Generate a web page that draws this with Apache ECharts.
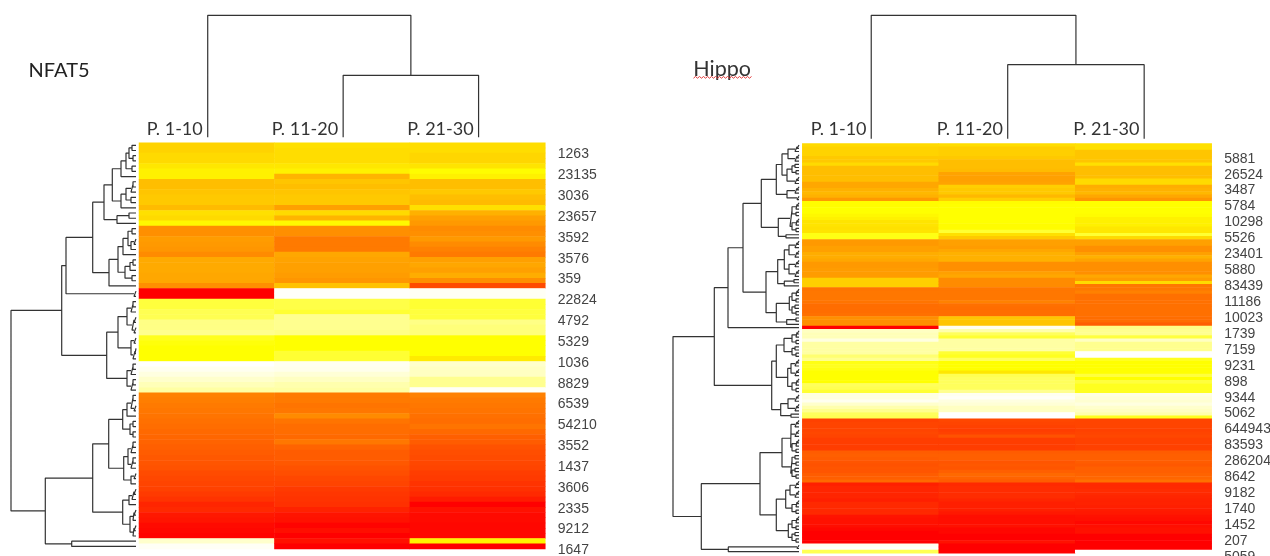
<!DOCTYPE html>
<html><head><meta charset="utf-8">
<style>html,body{margin:0;padding:0;background:#fff;overflow:hidden}#c{width:1270px;height:556px}</style>
<script src="https://cdn.jsdelivr.net/npm/echarts@6/dist/echarts.min.js"></script>
</head><body><div id="c"></div>
<script>
const columns = ['P. 1-10','P. 11-20','P. 21-30'];
const nfatTicks = ['1263','23135','3036','23657','3592','3576','359','22824','4792','5329','1036','8829','6539','54210','3552','1437','3606','2335','9212','1647'];
const hippoTicks = ['5881','26524','3487','5784','10298','5526','23401','5880','83439','11186','10023','1739','7159','9231','898','9344','5062','644943','83593','286204','8642','9182','1740','1452','207','5059'];

const nfatP1 = [38,38,36,36,32,29,29, 44,44,42,41,41,45, 34,36,27,
  58,58,54,55,56,59, 50,50,50,51,51,58, 100,100,
  19,19,17,17,12,12,11,22,24,25,25,25, 0,1.5,3,5,7,9,
  62,63,64,65,66,67,68,69,70,71,72,73,74,75,76,78,79,80,81,83,85,89,88,93,94,97,98,99, 5,1];
const nfatP2 = [34,35,35,35,32,29,47, 42,44,42,41,41,53, 36,47,27,
  58,58,64,64,64,51, 52,53,53,54,56,43, 0.5,0.5,
  18,18,20,11,11,11,12,25,25,25,20,20, 1.5,2,4,6,8,9,
  64,64,66,65,59,66,68,68,69,65,71,73,73,74,76,77,79,80,83,84,85,86,90,94,95,99,96,100, 95,100];
const nfatP3 = [35,35,37,37,33,26,29, 44,44,41,44,45,34, 48,53,55,
  59,58,55,59,62,64, 53,51,53,49,58,78, 1,1,
  20,20,19,19,12,13,13,25,25,25,25,31, 5,6,6,11,11,1,
  62,64,65,66,67,68,66,69,72,73,76,77,78,79,80,82,83,85,86,88,92,100,95,97,97,98,98,98, 28,100];

const hippoP1 = [36,38,38,38,41,41,36,44,44,44,44,44,51,51,48,46,48,55,
  26,26,25,25,27,29,33,33,34,33,23,23,
  55,55,53,53,49,49,51,55,55,54,54,54,39,39,39,
  66,65,65,65,66,68,68,68,67,58,58,58,100,
  6,7,7,3,9,9,9,9,14,11,
  23,22,23,25,25,25,25,16,17,20,
  3,3,1.5,5,8,11,16,17,
  81,80,80,80,79,80,82,82,82,82,73,72,73,75,76,75,75,73,72,69,
  91,89,89,89,89,91,88,88,88,88,94,95,95,96,98,100,100,100,100,1.5,0.5,17];
const hippoP2 = [35,39,39,39,41,44,44,44,45,52,53,53,52,39,41,41,46,39,
  26,25,25,25,25,25,25,26,26,20,34,41,
  53,53,54,51,48,48,48,58,58,58,53,51,59,59,59,
  65,65,65,65,62,67,68,68,68,42,42,42,1.5,
  8,16,20,9,9,9,9,20,22,16,
  25,25,25,32,17,16,16,16,16,11,
  1.5,0.8,3,4,6,6,0,0,
  79,80,81,82,81,76,82,82,82,82,73,72,72,75,74,75,72,69,71,73,
  88,87,87,87,87,89,91,91,91,93,96,96,96,95,98,98,100,100,95,100,100,100];
const hippoP3 = [34,34,42,42,42,42,34,44,44,44,44,36,36,49,48,46,51,56,
  25,25,25,25,26,29,29,29,32,32,20,36,
  53,53,58,58,53,48,52,58,58,58,58,51,54,36,65,
  65,62,67,67,67,67,67,67,67,68,68,72,12,
  11,11,19,6,11,11,11,0,0,22,
  25,25,25,25,19,25,19,22,22,22,
  3,4,4.5,3,5,6,8,22,
  80,80,80,81,80,79,81,81,81,81,73,72,72,73,74,72,72,71,70,67,
  88,88,87,88,89,90,90,91,92,93,95,96,98,96,95,95,100,100,100,100,100,0];

/* dendrograms: [merge height, upper child, lower child]; 0 is a leaf */
const nfatColTree = [122, 0, [62, 0, 0]];
const hippoColTree = [123.4, 0, [74, 0, 0]];
const s2=[2,0,0], s3=[5,[3,0,0],0], s3b=[4,[2,0,0],0], s4=[7,[4,0,0],[3,0,0]], s5=[7,[3,[2,0,0],0],[3,0,0]], s6=[8,s3b,s3b];
const nfatUpper = [74.3,
  [70,
    [43.3,
      [32,
        [23.7,
          [15,[10,s4,[4,0,0]],0],
          [15,[10,[5,[3,0,0],0],[5,0,0]],0]],
        [19,[7,0,0],0]],
      [27,
        [18,
          [13,[8,[4,0,0],[5,[2,0,0],0]],0],
          [11,[6,[3,0,0],0],[4,0,0]]],
        0]],
    [2,0,0]],
  [29.3,
    [18,
      [9,[5,[3,0,0],0],[4,[2,0,0],[2,0,0]]],
      [5,[2,0,0],[3,[1,0,0],0]]],
    [9,[5,[3,0,0],0],[5,[3,0,0],0]]]];
const nfatLower = [90.7,
  [43.3,
    [27.3,
      [13.3,[9,[5,[3,0,0],[2,0,0]],0],[6,[3,0,0],[3,0,0]]],
      [12.3,[8,[5,[3,0,0],0],[5,[3,0,0],0]],[5,[2,0,0],0]]],
    [13.3,
      [7,[4,[2,0,0],0],0],
      [6,[3,[2,0,0],0],[3,[2,0,0],0]]]],
  [64.3,0,0]];
const nfatRowTree = [125, nfatUpper, nfatLower];
const hippoUpper = [84.7,
  [71,
    [56,
      [37.7,
        [22.7,
          [17,[11,s3b,s3b],[12,s4,s3b]],
          [12,s3b,s2]],
        [20.7,[9,s5,s5],[13,0,0]]],
      [33,
        [21.3,
          [14.7,[10,s3b,s3b],[10,s3b,s3b]],
          [14.7,[5,0,0],0]],
        [22.7,
          [9.7,s5,s4],
          [12.3,[3,0,0],0]]]],
    0],
  [27.3,
    [22.7,[15,s5,s4],[11.3,s6,s5]],
    [18.3,[11,s3b,s3b],[8,0,0]]]];
const hippoLower = [97.7,
  [39,
    [17,[8.3,s6,s5],[8.3,s4,s4]],
    [22.7,[13.3,[9,s3b,s3b],s5],[10.7,s5,s4]]],
  [70.7,[2,0,0],0]];
const hippoRowTree = [126, hippoUpper, hippoLower];

function walk(node, st, segs){
  if(node===0){ return [0, st.n++ + 0.5]; }
  const a=walk(node[1],st,segs), b=walk(node[2],st,segs);
  segs.push([a[0],a[1]],[node[0],a[1]],[node[0],b[1]],[b[0],b[1]],['-','-']);
  return [node[0],(a[1]+b[1])/2];
}
function rowSegs(tree){ const s=[]; walk(tree,{n:0},s); return s; }
function colSegs(tree){ return rowSegs(tree).map(p=>[p[1],p[0]]); }
function cells(cols){ const d=[]; cols.forEach((c,i)=>c.forEach((v,j)=>d.push([i,j,v]))); return d; }
function rowCats(ticks,first,step,n){ const r=[]; for(let i=0;i<n;i++){ const k=(i-first)/step; r.push(Number.isInteger(k)&&k>=0&&k<ticks.length?ticks[k]:''); } return r; }

const LINE={color:'#333',width:1.2};
const hidden=(o)=>Object.assign({type:'value',show:false,scale:false,splitLine:{show:false}},o);
const heatX=(grid,pad)=>({type:'category',gridIndex:grid,position:'top',data:columns,
  axisLine:{show:false},axisTick:{show:false},splitLine:{show:false},
  axisLabel:{show:true,interval:0,color:'#333',fontFamily:'Lato',fontSize:18,align:'right',margin:5,padding:[0,pad,0,0]}});
const plainX=(grid)=>({type:'category',gridIndex:grid,data:columns,show:false});
const heatY=(grid,n)=>({type:'category',gridIndex:grid,inverse:true,data:Array.from({length:n},(_, i)=>'r'+i),show:false});
const labelY=(grid,cats)=>({type:'category',gridIndex:grid,position:'right',inverse:true,data:cats,
  axisLine:{show:false},axisTick:{show:false},splitLine:{show:false},
  axisLabel:{show:true,interval:0,color:'#444',fontFamily:'Liberation Sans',fontSize:14,margin:12.5,verticalAlign:'middle'}});
const line=(x,y,data)=>({type:'line',xAxisIndex:x,yAxisIndex:y,data:data,showSymbol:false,symbol:'none',connectNulls:false,clip:false,silent:true,lineStyle:LINE,itemStyle:{color:'#333'},animation:false});

const squiggle=[]; for(let i=0;i<=29;i++){ squiggle.push([693.5+i*2,(i%2?76.5:78.2)]); }

const free={outerBoundsMode:'none'};
const option={
  animation:false,backgroundColor:'#fff',
  title:[
    {text:'NFAT5',left:28.6,top:60.5,padding:0,textStyle:{fontFamily:'Lato',fontSize:20,fontWeight:'normal',color:'#222'}},
    {text:'Hippo',left:693.3,top:58,padding:0,textStyle:{fontFamily:'Lato',fontSize:21.5,fontWeight:'normal',color:'#333'}}
  ],
  visualMap:{show:false,seriesIndex:[0,1],min:0,max:100,calculable:false,inRange:{color:['#ffffff','#ffff00','#ffaa00','#ff5500','#ff0000']}},
  graphic:[{type:'polyline',silent:true,z:100,shape:{points:squiggle},style:{stroke:'#e23c3c',lineWidth:1,fill:null}}],
  grid:[
    {left:139,top:142.7,width:406.3,height:406.3,...free},
    {left:802.3,top:143.5,width:409.4,height:409.8,...free},
    {left:140,top:15.3,width:406.3,height:122,...free},
    {left:803,top:15.3,width:409.4,height:123.4,...free},
    {left:0,top:142.7,width:136,height:406.3,...free},
    {left:660,top:143.5,width:139,height:409.8,...free},
    {left:139,top:146.7,width:406.3,height:406.3,...free},
    {left:802.3,top:144.4,width:409.4,height:414.2,...free}
  ],
  xAxis:[
    heatX(0,4),heatX(1,4),
    hidden({gridIndex:2,min:0,max:3}),hidden({gridIndex:3,min:0,max:3}),
    hidden({gridIndex:4,min:0,max:136,inverse:true}),hidden({gridIndex:5,min:0,max:139,inverse:true}),
    plainX(6),plainX(7)
  ],
  yAxis:[
    heatY(0,78),heatY(1,128),
    hidden({gridIndex:2,min:0,max:122}),hidden({gridIndex:3,min:0,max:123.4}),
    hidden({gridIndex:4,min:0,max:78,inverse:true}),hidden({gridIndex:5,min:0,max:128,inverse:true}),
    labelY(6,rowCats(nfatTicks,1,4,78)),labelY(7,rowCats(hippoTicks,4,5,130))
  ],
  series:[
    {type:'heatmap',xAxisIndex:0,yAxisIndex:0,data:cells([nfatP1,nfatP2,nfatP3]),silent:true,progressive:0},
    {type:'heatmap',xAxisIndex:1,yAxisIndex:1,data:cells([hippoP1,hippoP2,hippoP3]),silent:true,progressive:0},
    line(2,2,colSegs(nfatColTree)),
    line(3,3,colSegs(hippoColTree)),
    line(4,4,rowSegs(nfatRowTree)),
    line(5,5,rowSegs(hippoRowTree))
  ]
};
echarts.init(document.getElementById('c'),null,{renderer:'canvas'}).setOption(option);
</script></body></html>
